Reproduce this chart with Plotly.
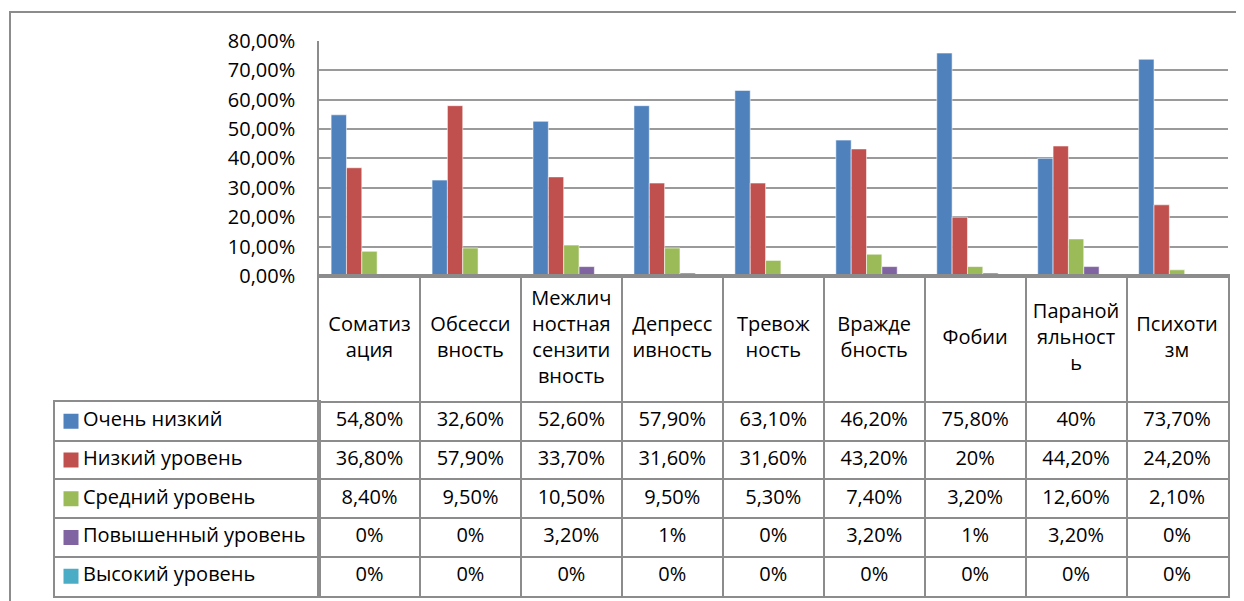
import plotly.graph_objects as go

# ── data ──
categories = [
    "Соматизация", "Обсессивность", "Межличностная сензитивность",
    "Депрессивность", "Тревожность", "Враждебность", "Фобии",
    "Паранойяльность", "Психотизм",
]
category_labels = [
    "Соматиз<br>ация", "Обсесси<br>вность", "Межлич<br>ностная<br>сензити<br>вность",
    "Депресс<br>ивность", "Тревож<br>ность", "Вражде<br>бность", "Фобии",
    "Параной<br>яльност<br>ь", "Психоти<br>зм",
]
series_names = ["Очень низкий", "Низкий уровень", "Средний уровень",
                "Повышенный уровень", "Высокий уровень"]

very_low = [54.8, 32.6, 52.6, 57.9, 63.1, 46.2, 75.8, 40, 73.7]
low      = [36.8, 57.9, 33.7, 31.6, 31.6, 43.2, 20, 44.2, 24.2]
medium   = [8.4, 9.5, 10.5, 9.5, 5.3, 7.4, 3.2, 12.6, 2.1]
elevated = [0, 0, 3.2, 1, 0, 3.2, 1, 3.2, 0]
high     = [0, 0, 0, 0, 0, 0, 0, 0, 0]
series = [very_low, low, medium, elevated, high]

y_ticks = [0, 0.1, 0.2, 0.3, 0.4, 0.5, 0.6, 0.7, 0.8]

# ── style ──
COLORS = ["#4F81BD", "#C0504D", "#9BBB59", "#8064A2", "#4BACC6"]
LINE   = "#8C8C8C"
GRID   = "#9A9A9A"
FONT   = "Open Sans"
FSIZE  = 20

W, H = 1244, 601
OFF = 8   # the page body adds an 8px margin, so shift everything back


def fx(px):
    return (px - OFF) / W


def fy(py):
    return 1 - (py - OFF) / H


# pixel layout of the excel-style chart
PLOT_L, PLOT_R = 319, 1227.5
LEG_L = 55
BAR_TOP, BAR_BOT = 40.7, 276
HEAD_BOT = 402
TABLE_BOT = 595.5
ROW_H = (TABLE_BOT - HEAD_BOT) / len(series)
HEAD_ROWS = (HEAD_BOT - BAR_BOT) / ROW_H
LEG_W = PLOT_L - LEG_L
KEY_X = (71 - LEG_L) / LEG_W      # colour square centre
LABEL_X = (83 - LEG_L) / LEG_W    # legend label start


def pct_label(v):
    if float(v).is_integer():
        return f"{int(v)}%"
    return f"{v:.2f}%".replace(".", ",")


fig = go.Figure()

# bars
for name, vals, color in zip(series_names, series, COLORS):
    fig.add_trace(go.Bar(
        x=categories, y=[v / 100 for v in vals], name=name,
        marker=dict(color=color, line=dict(color="rgba(255,255,255,0.55)", width=1)),
        xaxis="x", yaxis="y",
    ))

# table header (category names)
fig.add_trace(go.Scatter(
    x=categories, y=[len(series) + HEAD_ROWS / 2] * len(categories),
    text=category_labels, mode="text", textposition="middle center",
    textfont=dict(family=FONT, size=FSIZE, color="black"),
    xaxis="x3", yaxis="y2",
))

# table cells
cell_x, cell_y, cell_text = [], [], []
for i, vals in enumerate(series):
    for cat, v in zip(categories, vals):
        cell_x.append(cat)
        cell_y.append(len(series) - 0.5 - i)
        cell_text.append(pct_label(v))
fig.add_trace(go.Scatter(
    x=cell_x, y=cell_y, text=cell_text, mode="text", textposition="middle center",
    textfont=dict(family=FONT, size=FSIZE, color="black"),
    xaxis="x3", yaxis="y2",
))

# legend column of the table
row_mid = [len(series) - 0.5 - i for i in range(len(series))]
fig.add_trace(go.Scatter(
    x=[KEY_X] * len(series), y=row_mid, mode="markers",
    marker=dict(symbol="square", size=15, color=COLORS),
    xaxis="x2", yaxis="y4",
))
fig.add_trace(go.Scatter(
    x=[LABEL_X] * len(series), y=row_mid, text=series_names,
    mode="text", textposition="middle right",
    textfont=dict(family=FONT, size=FSIZE, color="black"),
    xaxis="x2", yaxis="y4",
))

fig.update_layout(
    template="none",
    width=W, height=H,
    margin=dict(l=0, r=0, t=0, b=0),
    paper_bgcolor="white", plot_bgcolor="white",
    font=dict(family=FONT, size=FSIZE, color="black"),
    separators=", ",
    barmode="group", bargap=0.24, bargroupgap=0,
    showlegend=False, hovermode=False,
    xaxis=dict(
        domain=[fx(PLOT_L), fx(PLOT_R)], anchor="y",
        categoryorder="array", categoryarray=categories,
        showticklabels=False, showgrid=False, zeroline=False,
        showline=True, linecolor=LINE, linewidth=1.5, ticks="",
    ),
    yaxis=dict(
        domain=[fy(BAR_BOT), fy(BAR_TOP)], anchor="x",
        range=[0, 0.8], tickvals=y_ticks, tickformat=".2%",
        showgrid=True, gridcolor=GRID, gridwidth=1.5, zeroline=False,
        showline=True, linecolor=LINE, linewidth=1.5, ticks="",
        ticklabelstandoff=18, automargin=False,
        tickfont=dict(family=FONT, size=FSIZE, color="black"),
    ),
    xaxis3=dict(
        domain=[fx(PLOT_L), fx(PLOT_R)], anchor="y2", type="category",
        categoryorder="array", categoryarray=categories,
        range=[-0.5, len(categories) - 0.5],
        showticklabels=False, tickson="boundaries", ticks="",
        showgrid=True, gridcolor=LINE, gridwidth=1.5, zeroline=False,
        showline=True, mirror=True, linecolor=LINE, linewidth=1.5,
    ),
    yaxis2=dict(
        domain=[fy(TABLE_BOT), fy(BAR_BOT)], anchor="x3",
        range=[0, len(series) + HEAD_ROWS],
        tickvals=list(range(1, len(series) + 1)), showticklabels=False, ticks="",
        showgrid=True, gridcolor=LINE, gridwidth=1.5, zeroline=False,
        showline=True, mirror=True, linecolor=LINE, linewidth=1.5,
    ),
    xaxis2=dict(
        domain=[fx(LEG_L), fx(PLOT_L)], anchor="y4", range=[0, 1],
        showticklabels=False, showgrid=False, zeroline=False, ticks="",
        showline=True, mirror=True, linecolor=LINE, linewidth=1.5,
    ),
    yaxis4=dict(
        domain=[fy(TABLE_BOT), fy(HEAD_BOT)], anchor="x2", range=[0, len(series)],
        tickvals=list(range(1, len(series))), showticklabels=False, ticks="",
        showgrid=True, gridcolor=LINE, gridwidth=1.5, zeroline=False,
        showline=True, mirror=True, linecolor=LINE, linewidth=1.5,
    ),
    shapes=[dict(
        type="rect", xref="paper", yref="paper",
        x0=fx(10), y0=fy(12), x1=1.05, y1=-0.05,
        line=dict(color=LINE, width=2), fillcolor="rgba(0,0,0,0)", layer="below",
    )],
)

fig.write_html("out.html")
